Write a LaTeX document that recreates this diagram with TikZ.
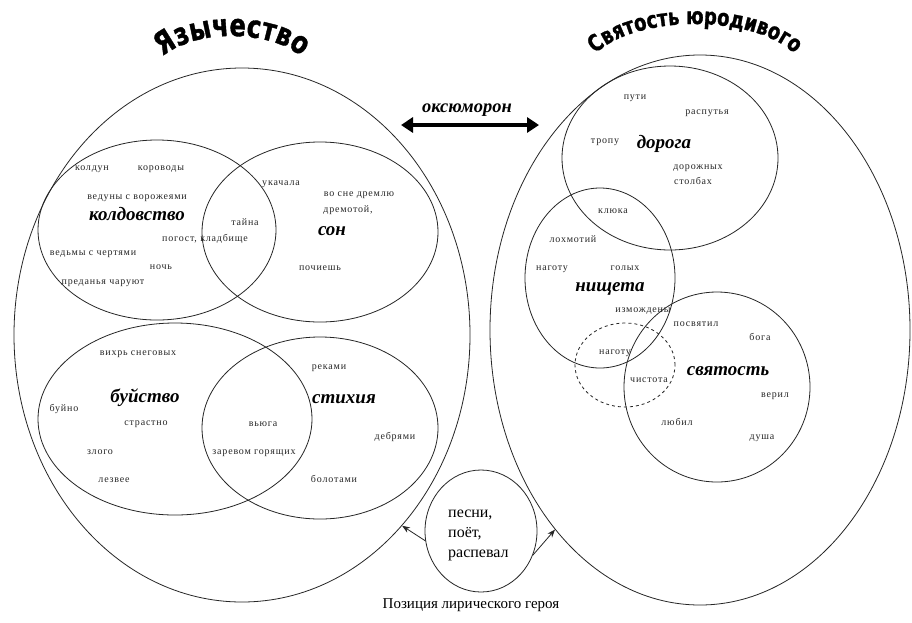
\documentclass[tikz,border=0pt]{standalone}
\usepackage{fontspec}
\setmainfont{Liberation Serif}
\newfontfamily\smallf[LetterSpace=8]{Liberation Serif}
\newfontfamily\titlef[FakeStretch=0.78,FakeBold=1.2]{DejaVu Sans}
\usetikzlibrary{shapes.geometric,arrows.meta,decorations.text}
\newcommand\titleA{\titlef\bfseries\fontsize{31}{31}\selectfont}
\newcommand\titleB{\titlef\bfseries\fontsize{23}{23}\selectfont}
\tikzset{
  area/.style={draw=black!85, ellipse, inner sep=0pt, line width=0.8pt},
  w/.style={font=\smallf\fontsize{10}{11}\selectfont, inner sep=0pt, anchor=base, text=black!85},
  big/.style={font=\bfseries\itshape\fontsize{19}{20}\selectfont, inner sep=0pt, anchor=base},
  ptr/.style={-{Stealth[length=8pt,width=6pt]}, line width=0.8pt, draw=black!85}
}
\begin{document}
\begin{tikzpicture}[x=1pt,y=-1pt]
\useasboundingbox[fill=white] (0,0) rectangle (912,622);

% titles
\path[decorate, decoration={text along path, text align=center, text={|\titleA|Язычество}}]
  (232,80) ++(180:82pt and 44pt) arc[start angle=180, end angle=0, x radius=82pt, y radius=44pt];
\path[decorate, decoration={text along path, text align=center, text={|\titleB|Святость юродивого}}]
  (695,76) ++(180:110pt and 52pt) arc[start angle=180, end angle=0, x radius=110pt, y radius=52pt];

% big areas
\node[area, minimum width=456pt, minimum height=534pt] (L) at (242,335) {};
\node[area, minimum width=420pt, minimum height=550pt] (R) at (700,330) {};
% left inner
\node[area, minimum width=238pt, minimum height=180pt] (kold) at (157,230) {};
\node[area, minimum width=236pt, minimum height=180pt] (son) at (320,232) {};
\node[area, minimum width=274pt, minimum height=192pt] (buy) at (175,419) {};
\node[area, minimum width=236pt, minimum height=182pt] (stih) at (320,428) {};
% right inner
\node[area, minimum width=216pt, minimum height=184pt] (dor) at (670,158) {};
\node[area, minimum width=150pt, minimum height=180pt] (nish) at (600,278) {};
\node[area, minimum width=186pt, minimum height=190pt] (svy) at (717,387) {};
\node[area, dashed, minimum width=100pt, minimum height=84pt] (dash) at (625,365) {};
% bottom
\node[area, minimum width=112pt, minimum height=122pt] (pos) at (481,531) {};

% oxymoron
\coordinate (ox1) at (401,125);
\coordinate (ox2) at (539,125);
\draw[line width=4.2pt, {Triangle[length=12pt,width=15pt]}-{Triangle[length=12pt,width=15pt]}] (ox1) -- (ox2);
\node[big, font=\bfseries\itshape\fontsize{18.5}{20}\selectfont] (oxy) at (467,112) {оксюморон};

% arrows from lyric hero
\draw[ptr] (pos.190) -- (L.-50);
\draw[ptr] (pos.-25) -- (R.234.4);

% колдовство
\node[w] (a1) at (92,170.5) {колдун};
\node[w] (a2) at (161,170.5) {короводы};
\node[w] (a3) at (137,199.5) {ведуны с ворожеями};
\node[big] (a4) at (137,220) {колдовство};
\node[w] (a5) at (245,225.5) {тайна};
\node[w] (a6) at (205,241.5) {погост, кладбище};
\node[w] (a7) at (93,255.5) {ведьмы с чертями};
\node[w] (a8) at (161,269.5) {ночь};
\node[w] (a9) at (103,284.5) {преданья чаруют};
% сон
\node[w] (b1) at (281,185.5) {укачала};
\node[w] (b2) at (359,196.5) {во сне дремлю};
\node[w] (b3) at (348,212.5) {дремотой,};
\node[big] (b4) at (332,235) {сон};
\node[w] (b5) at (320,270.5) {почиешь};
% буйство
\node[w] (c1) at (138,355.5) {вихрь снеговых};
\node[big] (c2) at (145,402) {буйство};
\node[w] (c3) at (64,411.5) {буйно};
\node[w] (c4) at (146,425.5) {страстно};
\node[w] (c5) at (100,454.5) {злого};
\node[w] (c6) at (114,482.5) {лезвее};
% стихия
\node[w] (d1) at (329,369.5) {реками};
\node[big] (d2) at (344,403) {стихия};
\node[w] (d3) at (263,426.5) {вьюга};
\node[w] (d4) at (254,454.5) {заревом горящих};
\node[w] (d5) at (395,439.5) {дебрями};
\node[w] (d6) at (334,482.5) {болотами};
% дорога
\node[w] (e1) at (635,99.5) {пути};
\node[w] (e2) at (707,114.5) {распутья};
\node[w] (e3) at (605,143.5) {тропу};
\node[big] (e4) at (664,148) {дорога};
\node[w] (e5) at (698,169.5) {дорожных};
\node[w] (e6) at (693,184.5) {столбах};
% нищета
\node[w] (f1) at (613,213.5) {клюка};
\node[w] (f2) at (573,242.5) {лохмотий};
\node[w] (f3) at (552,270.5) {наготу};
\node[w] (f4) at (625,270.5) {голых};
\node[big] (f5) at (610,291) {нищета};
\node[w] (f6) at (643,312.5) {измождены};
% святость
\node[w] (g1) at (696,326.5) {посвятил};
\node[w] (g2) at (760,340.5) {бога};
\node[w] (g3) at (615,354.5) {наготу};
\node[big] (g4) at (728,375) {святость};
\node[w] (g5) at (649,382.5) {чистота};
\node[w] (g6) at (775,397.5) {верил};
\node[w] (g7) at (677,425.5) {любил};
\node[w] (g8) at (762,439.5) {душа};
% lyric hero
\node[anchor=base west, inner sep=0pt, font=\fontsize{16}{18}\selectfont] (h1) at (448,517) {песни,};
\node[anchor=base west, inner sep=0pt, font=\fontsize{16}{18}\selectfont] (h2) at (448,537) {поёт,};
\node[anchor=base west, inner sep=0pt, font=\fontsize{16}{18}\selectfont] (h3) at (448,557) {распевал};
\node[font=\fontsize{15}{17}\selectfont, inner sep=0pt] (cap) at (471,605) {Позиция лирического героя};
\end{tikzpicture}
\end{document}
